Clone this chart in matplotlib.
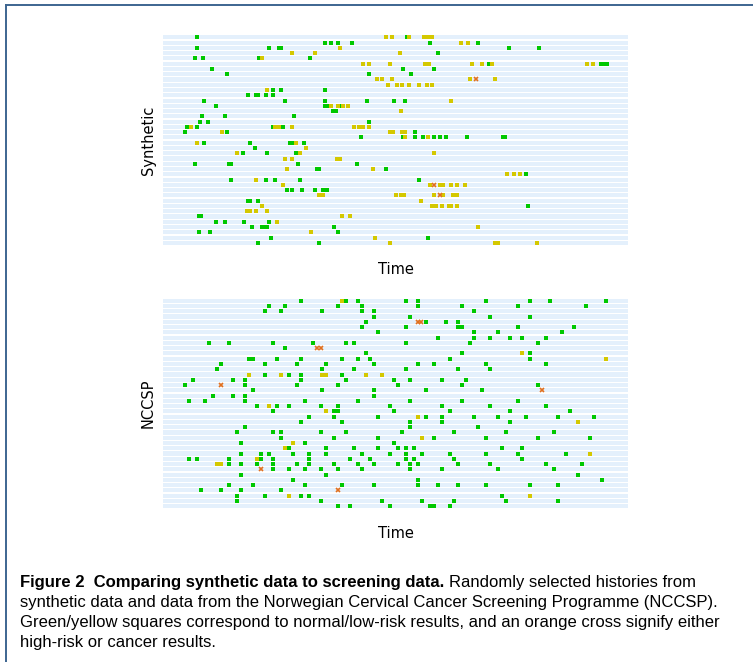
import numpy as np
import matplotlib
matplotlib.use("Agg")
import matplotlib.pyplot as plt
from matplotlib.lines import Line2D

# time of each result, one list per history (row 0 at the top)
synGreen = [[197, 407], [325, 331, 338, 352, 430, 478], [197, 269, 279, 281, 509, 539], [438],
            [195, 203, 259, 310], [489, 601, 604, 607], [212, 403, 434], [227, 369, 411],
            [], [], [273, 281, 325], [248, 256, 258, 266, 273],
            [204, 285, 325, 367, 394, 405], [216, 325, 327, 342], [333, 336], [202, 225, 294],
            [200, 208, 369], [187, 197, 273, 283], [185, 227, 415], [361, 403, 415, 423, 434, 440, 446, 467, 503, 505],
            [204, 250, 290, 292, 304], [255], [243, 267, 296], [],
            [195, 229, 231, 298, 357], [317, 319, 386], [526], [231, 266, 275, 300, 419],
            [], [287, 292, 302, 315, 323, 327], [], [248, 250, 258],
            [528], [], [199, 201], [216, 225, 244, 269],
            [252, 262, 265, 267, 334], [199, 210, 338], [271, 428], [258, 319]]
synYellow = [[386, 392, 409, 424, 428, 432], [461, 468], [340], [292, 315, 400],
             [262], [363, 369, 390, 425, 429, 472, 482, 492, 587, 593], [], [],
             [377, 382, 392, 470, 495], [388, 397, 402, 409, 419, 427, 432], [267], [],
             [451], [331, 338, 343, 348], [401], [],
             [], [191, 275, 279, 292, 354, 359, 363, 369], [222, 390, 393, 402, 405], [405, 428],
             [197, 296], [306], [237, 300, 434], [285, 292, 337, 340],
             [], [287, 373], [507, 514, 520], [256],
             [283, 430, 440, 443, 451, 457, 465], [], [319, 323, 396, 401, 404, 434, 443, 453, 457], [421],
             [262, 432, 436, 442, 449, 451, 457], [247, 250, 256, 267], [342, 350], [277],
             [478], [311], [375], [390, 495, 498, 537]]
synCross = {8: [476], 28: [434], 30: [440]}

ncGreen = [[301, 346, 358, 406, 418, 486, 530, 550, 606], [269, 285, 338, 362, 418, 462, 518, 586],
           [265, 281, 322, 362, 374, 474], [374, 410, 490, 530],
           [366, 426, 446, 458], [362, 406, 458, 462, 518, 574],
           [378, 474, 498, 562], [438, 474, 490, 510, 522, 546],
           [209, 229, 273, 313, 346, 354, 406, 470, 538], [285],
           [366, 462, 530], [249, 253, 277, 301, 342, 358, 370, 450, 530],
           [221, 265, 297, 326, 374, 418, 434, 486, 546], [217, 322, 354, 406, 458, 490],
           [265, 289, 301, 342], [193, 233, 245, 301, 346, 394, 410, 442, 466],
           [185, 245, 297, 338, 398, 462, 538], [253, 322, 374, 426, 482],
           [213, 233, 245, 374], [189, 205, 245, 305, 358, 410, 462, 518],
           [257, 277, 289, 321, 338, 390, 442, 490, 546], [273, 334, 338, 394, 450, 510, 570],
           [309, 334, 378, 426, 442, 474, 498, 526, 558, 594], [301, 342, 410, 442, 510],
           [245, 410, 478], [237, 273, 281, 321, 346, 402, 454, 506, 554],
           [281, 334, 378, 434, 486, 538, 590], [241, 305, 394],
           [289, 326, 354, 378, 398, 406, 414, 502, 522],
           [241, 261, 269, 293, 309, 326, 362, 390, 406, 422, 450, 486, 518, 566],
           [189, 197, 229, 261, 273, 309, 350, 370, 406, 414, 454, 522],
           [229, 241, 257, 273, 297, 309, 334, 358, 374, 398, 410, 418, 458, 490, 546, 582],
           [273, 289, 305, 321, 338, 362, 410, 442, 498, 554], [241, 326, 578],
           [293, 418, 602], [229, 253, 305, 342, 374, 418, 438, 458, 486, 530, 558],
           [201, 221, 241, 281], [237, 265, 301, 309, 502],
           [237, 321, 382, 422, 454, 506, 558], [338, 350, 390, 430, 434, 450]]
ncYellow = {0: [342], 10: [522], 11: [606], 14: [249, 281, 322, 326, 366, 382], 20: [269], 21: [326],
            22: [418], 23: [578], 26: [422], 27: [293], 28: [285], 29: [590], 30: [257],
            31: [217, 221], 37: [289, 530]}
ncCross = {4: [418, 421], 9: [317, 321], 16: [221], 17: [542], 32: [261], 36: [338]}

nRows = 40
tMin, tMax = 163, 628

green = '#00c800'
yellow = '#d4c800'
orange = '#e2701e'
band = '#e4f0fc'


def flat(rows):
    # rows given as list of lists or dict row -> times
    if isinstance(rows, dict):
        rows = [rows.get(i, []) for i in range(nRows)]
    x = [t for r in rows for t in r]
    y = [i for i, r in enumerate(rows) for t in r]
    return np.array(x), np.array(y)


def panel(ax, g, yl, cr, label):
    for r in range(nRows):
        ax.axhspan(r - 0.39, r + 0.39, color=band, lw=0, zorder=0)
    x, y = flat(g)
    ax.plot(x, y, 's', color=green, ms=3.5, mew=0, zorder=2)
    x, y = flat(yl)
    ax.plot(x, y, 's', color=yellow, ms=3.5, mew=0, zorder=2)
    x, y = flat(cr)
    ax.plot(x, y, 'x', color=orange, ms=3.5, mew=1.2, zorder=3)
    ax.set_xlim(tMin, tMax)
    ax.set_ylim(nRows - 0.5, -0.5)
    ax.set_xticks([])
    ax.set_yticks([])
    for s in ax.spines.values():
        s.set_visible(False)
    ax.set_xlabel('Time', fontsize=10.5, labelpad=12)
    ax.set_ylabel(label, fontsize=10.5, labelpad=5)


fig = plt.figure(figsize=(7.53, 6.62), dpi=100)
ax1 = fig.add_axes([0.2165, 0.6292, 0.6175, 0.3184])
ax2 = fig.add_axes([0.2165, 0.2313, 0.6175, 0.3184])
panel(ax1, synGreen, synYellow, synCross, 'Synthetic')
panel(ax2, ncGreen, ncYellow, ncCross, 'NCCSP')

# frame of the figure box
frameCol = '#3d6590'
fig.add_artist(Line2D([6.5 / 753, 1], [1 - 4.5 / 662] * 2, color=frameCol, lw=1.4))
fig.add_artist(Line2D([6.5 / 753] * 2, [0, 1 - 4.5 / 662], color=frameCol, lw=1.4))

# caption
capFont = ['Liberation Sans Narrow', 'Liberation Sans', 'DejaVu Sans']
capSize = 12
x0 = 20 / 753
lines = ['synthetic data and data from the Norwegian Cervical Cancer Screening Programme (NCCSP).',
         'Green/yellow squares correspond to normal/low-risk results, and an orange cross signify either',
         'high-risk or cancer results.']
y0 = 1 - 582 / 662
t1 = fig.text(x0, y0, 'Figure 2  Comparing synthetic data to screening data.', family=capFont,
              fontsize=capSize, weight='bold', va='center')
fig.canvas.draw()
bb = t1.get_window_extent()
fig.text(bb.x1 / fig.bbox.width + 5 / 753, y0, 'Randomly selected histories from', family=capFont,
         fontsize=capSize, va='center')
for i, l in enumerate(lines):
    fig.text(x0, 1 - (602 + 20 * i) / 662, l, family=capFont, fontsize=capSize, va='center')

fig.savefig('out.png', dpi=100)
